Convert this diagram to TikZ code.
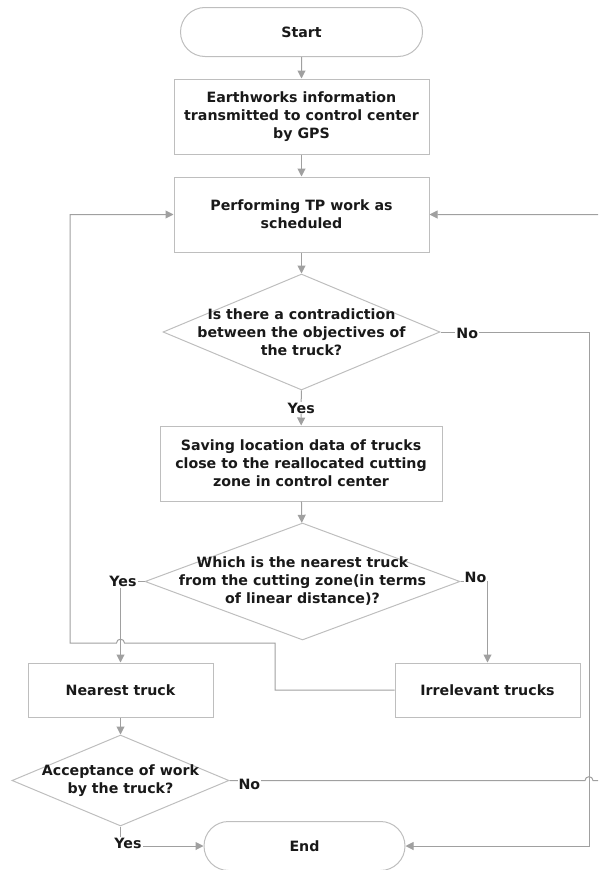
\documentclass[tikz,border=0pt]{standalone}
\usepackage{fontspec}
\setmainfont{DejaVu Sans}
\usetikzlibrary{shapes.geometric,shapes.misc,arrows.meta,positioning}
\definecolor{linegray}{RGB}{160,160,160}
\definecolor{boxgray}{RGB}{190,190,190}
\definecolor{textblack}{RGB}{25,25,25}

\begin{document}
\begin{tikzpicture}[x=1pt,y=-1pt,
	font=\fontsize{14.2}{18}\selectfont\bfseries,
	terminal/.style={rounded rectangle, draw=boxgray, line width=1pt, minimum width=#1, minimum height=49pt, inner sep=0pt, text=textblack},
	process/.style={rectangle, draw=boxgray, line width=1pt, align=center, inner sep=0pt, text=textblack},
	decision/.style={diamond, draw=boxgray, line width=1pt, inner sep=0pt},
	flow/.style={draw=linegray, line width=1pt, -{Triangle[width=8pt,length=8pt]}},
	answer/.style={fill=white, inner sep=1pt, text=textblack}]

		\clip (0,0) rectangle (598,870);

		\node(start)[terminal=242pt] at (301.5,32) {Start};
		\node(info)[process, minimum width=255pt, minimum height=75pt] at (301.5,116.5) {Earthworks information\\transmitted to control center\\by GPS};
		\node(perform)[process, minimum width=255pt, minimum height=75pt] at (301.5,214.5) {Performing TP work as\\scheduled};
		\node(check-1)[decision, minimum width=277pt, minimum height=116pt,
			label={[align=center, text=textblack]center:{Is there a contradiction\\between the objectives of\\the truck?}}] at (301.5,332) {};
		\node(saving)[process, minimum width=282pt, minimum height=75pt] at (301,463.5) {Saving location data of trucks\\close to the reallocated cutting\\zone in control center};
		\node(check-2)[decision, minimum width=315pt, minimum height=117pt,
			label={[align=center, text=textblack]center:{Which is the nearest truck\\from the cutting zone(in terms\\of linear distance)?}}] at (302.5,581.5) {};
		\node(nearest)[process, minimum width=185pt, minimum height=54pt] at (120.5,690) {Nearest truck};
		\node(irrelevant)[process, minimum width=185pt, minimum height=54pt] at (487.5,690) {Irrelevant trucks};
		\node(check-3)[decision, minimum width=217pt, minimum height=91pt,
			label={[align=center, text=textblack]center:{Acceptance of work\\by the truck?}}] at (120.5,780.5) {};
		\node(end)[terminal=201pt] at (304.5,846) {End};

		\draw[flow] (start) -- (info);
		\draw[flow] (info) -- (perform);
		\draw[flow] (perform) -- (check-1);
		\draw[flow] (check-1) --node[answer]{Yes} (saving);
		\draw[flow] (saving) -- (check-2);
		\draw[flow] (check-2.west) -|node[answer, pos=0.5, xshift=2.5pt]{Yes} (nearest.north);
		\draw[flow] (check-2.east) -|node[answer, pos=0.5, xshift=-12pt, yshift=4pt]{No} (irrelevant.north);
		\draw[flow] (nearest) -- (check-3);
		\draw[flow] (check-3.south) |-node[answer, pos=0.5, xshift=7.5pt, yshift=3pt]{Yes} (end.west);
		\draw[flow] (check-1.east) --node[answer, pos=0.18, yshift=-1pt]{No} (589,332) |- (end.east);

		% loop back from the irrelevant trucks, hopping over the Yes line
		\draw[flow] (irrelevant.west) -- (275,690) -- (275,643) -- (124.5,643)
			.. controls (124.5,638) and (116.5,638) .. (116.5,643) -- (70,643) |- (perform.west);
		% refused work goes back round the right side
		\draw[flow] (check-3.east) --node[answer, pos=0.056, yshift=-3.5pt]{No} (585,780.5)
			.. controls (585,775.5) and (593,775.5) .. (593,780.5) -- (606,780.5) |- (perform.east);
	\end{tikzpicture}
\end{document}
